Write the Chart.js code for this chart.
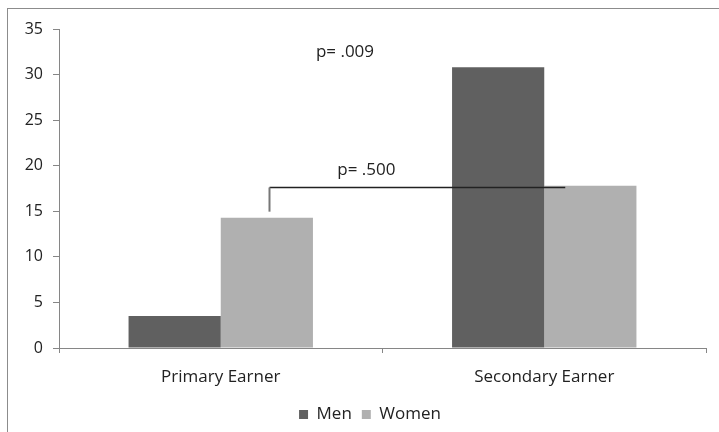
<!DOCTYPE html>
<html>
<head>
<meta charset="utf-8">
<script src="https://cdn.jsdelivr.net/npm/chart.js@4.4.0/dist/chart.umd.min.js"></script>
<style>
html,body{margin:0;padding:0;background:#fff;}
#wrap{position:relative;width:719px;height:432px;overflow:hidden;}
#frame{position:absolute;left:7px;top:8px;width:760px;height:480px;border:1px solid #8c8c8c;box-sizing:border-box;pointer-events:none;}
canvas{position:absolute;left:0;top:0;}
</style>
</head>
<body>
<div id="wrap">
<canvas id="c" width="719" height="432"></canvas>
<div id="frame"></div>
</div>
<script>
const categories = ["Primary Earner", "Secondary Earner"];
const menValues = [3.5, 30.8];
const womenValues = [14.3, 17.8];
const yTicks = [0, 5, 10, 15, 20, 25, 30, 35];
const pLabels = ["p= .009", "p= .500"];
const pLabelValues = [32.5, 19.5];
const pLabelPositions = [0.384, 0.45];

const FONT = "'Open Sans', 'Noto Sans', sans-serif";

const legendShift = {
  id: 'legendShift',
  afterLayout(chart) {
    const lg = chart.legend;
    if (!lg) return;
    lg.left += 17; lg.right += 17;
    lg.top += 1; lg.bottom += 1;
  }
};

const annot = {
  id: 'annot',
  afterDatasetsDraw(chart) {
    const ctx = chart.ctx;
    const xs = chart.scales.x, ys = chart.scales.y;
    const w0 = chart.getDatasetMeta(1).data[0];
    const w1 = chart.getDatasetMeta(1).data[1];
    const yH = Math.round(ys.getPixelForValue(womenValues[1])) + 1.5;
    const xL = Math.round(w0.x) + 2.5;
    const xR = w1.x - w1.width / 2 + 21;
    ctx.save();
    ctx.strokeStyle = '#222';
    ctx.lineWidth = 1.3;
    ctx.beginPath();
    ctx.moveTo(xR, yH);
    ctx.lineTo(xL, yH);
    ctx.stroke();
    ctx.strokeStyle = '#777';
    ctx.lineWidth = 2;
    ctx.beginPath();
    ctx.moveTo(xL, yH);
    ctx.lineTo(xL, ys.getPixelForValue(womenValues[0]) - 6);
    ctx.stroke();
    ctx.fillStyle = '#222';
    ctx.font = "17px " + FONT;
    ctx.textAlign = 'center';
    ctx.textBaseline = 'middle';
    for (let i = 0; i < pLabels.length; i++) {
      ctx.fillText(pLabels[i], xs.getPixelForValue(pLabelPositions[i]), ys.getPixelForValue(pLabelValues[i]));
    }
    ctx.restore();
  }
};

new Chart(document.getElementById('c'), {
  type: 'bar',
  data: {
    labels: categories,
    datasets: [
      { label: 'Men', data: menValues, backgroundColor: '#606060', borderWidth: 0 },
      { label: 'Women', data: womenValues, backgroundColor: '#b0b0b0', borderWidth: 0 }
    ]
  },
  options: {
    responsive: false,
    animation: false,
    devicePixelRatio: 1,
    categoryPercentage: 0.57,
    barPercentage: 1.0,
    layout: { padding: { left: 0, right: 13, top: 29, bottom: 0 } },
    plugins: {
      legend: {
        position: 'bottom',
        labels: {
          boxWidth: 9, boxHeight: 9, padding: 10,
          color: '#222',
          font: { family: FONT, size: 17 }
        }
      },
      tooltip: { enabled: false }
    },
    scales: {
      x: {
        grid: { display: true, offset: true, drawOnChartArea: false, drawTicks: true, tickLength: 5, color: '#868686' },
        border: { color: '#868686', width: 1 },
        ticks: { color: '#222', font: { family: FONT, size: 17 }, padding: 14 },
        afterFit(s) { s.height = 47; }
      },
      y: {
        min: 0, max: 35,
        afterBuildTicks(s) { s.ticks = yTicks.map(v => ({ value: v })); },
        grid: { display: true, drawOnChartArea: false, drawTicks: true, tickLength: 6, color: '#868686' },
        border: { color: '#868686', width: 1 },
        ticks: { color: '#222', font: { family: FONT, size: 16 }, padding: 10 },
        afterFit(s) { s.width = 59; }
      }
    }
  },
  plugins: [annot, legendShift]
});
</script>
</body>
</html>
